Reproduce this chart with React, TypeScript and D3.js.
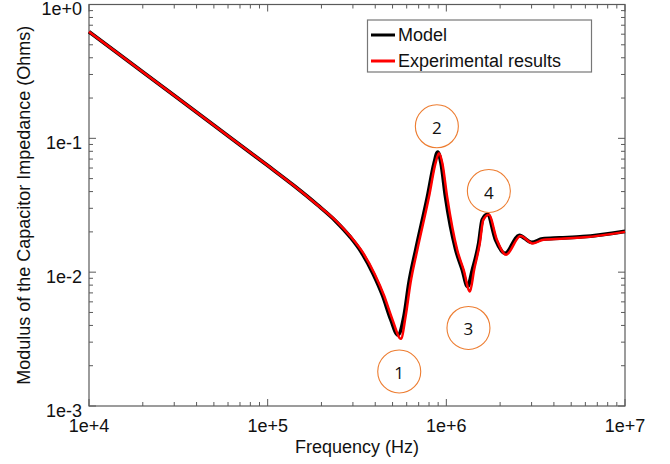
import React from "react";
import * as d3 from "d3";

const freqModel = [1e4, 2e4, 5e4, 1e5, 1.4e5, 1.9e5, 2.4e5, 2.9e5, 3.35e5, 3.9e5, 4.4e5, 4.9e5, 5.35e5, 5.8e5, 6.18e5, 6.75e5, 7.85e5, 8.55e5, 8.95e5, 9.35e5, 9.9e5, 1.13e6, 1.23e6, 1.315e6, 1.4e6, 1.52e6, 1.59e6, 1.7e6, 1.89e6, 2.13e6, 2.56e6, 3.0e6, 3.45e6, 4.3e6, 5.8e6, 1e7];
const zModel = [0.626, 0.313, 0.1252, 0.0626, 0.0444, 0.0318, 0.0241, 0.0183, 0.0141, 0.0097, 0.0067, 0.0044, 0.0034, 0.0047, 0.0083, 0.0147, 0.0367, 0.0652, 0.079, 0.0652, 0.0367, 0.0147, 0.0104, 0.0078, 0.0104, 0.0165, 0.0246, 0.027, 0.0174, 0.0138, 0.0188, 0.0167, 0.0177, 0.018, 0.0184, 0.0202];

const freqExp = [1e4, 2e4, 5e4, 1e5, 1.4e5, 1.9e5, 2.42e5, 2.93e5, 3.4e5, 3.97e5, 4.48e5, 5.0e5, 5.57e5, 5.92e5, 6.3e5, 6.88e5, 8.0e5, 8.7e5, 9.1e5, 9.5e5, 1.01e6, 1.15e6, 1.25e6, 1.355e6, 1.43e6, 1.54e6, 1.61e6, 1.73e6, 1.92e6, 2.16e6, 2.6e6, 3.05e6, 3.5e6, 4.4e6, 5.9e6, 1e7];
const zExp = [0.626, 0.313, 0.1252, 0.0626, 0.0444, 0.0318, 0.0241, 0.0183, 0.0141, 0.0097, 0.0067, 0.0044, 0.00318, 0.0047, 0.0083, 0.0147, 0.0367, 0.0652, 0.0775, 0.0652, 0.0367, 0.0147, 0.0104, 0.00716, 0.0104, 0.0165, 0.0246, 0.0268, 0.0174, 0.0135, 0.0186, 0.0164, 0.0175, 0.0178, 0.0182, 0.02];

const xTickValues = [1e4, 1e5, 1e6, 1e7];
const xTickLabels = ["1e+4", "1e+5", "1e+6", "1e+7"];
const yTickValues = [1, 0.1, 0.01, 0.001];
const yTickLabels = ["1e+0", "1e-1", "1e-2", "1e-3"];

const legendLabels = ["Model", "Experimental results"];
const annotationLabels = ["1", "2", "3", "4"];
const annotationFreq = [5.45e5, 8.85e5, 1.33e6, 1.73e6];
const annotationZ = [0.00181, 0.123, 0.00383, 0.0404];

export default function App() {
  const W = 670, H = 464;
  const left = 89, right = 625, top = 4.5, bottom = 406;
  const x = d3.scaleLog().domain([1e4, 1e7]).range([left, right]);
  const y = d3.scaleLog().domain([1e-3, 1]).range([bottom, top]);

  const line = d3
    .line<[number, number]>()
    .x((d) => x(d[0]))
    .y((d) => y(d[1]))
    .curve(d3.curveMonotoneX);

  const modelPts = freqModel.map((f, i) => [f, zModel[i]] as [number, number]);
  const expPts = freqExp.map((f, i) => [f, zExp[i]] as [number, number]);

  const axisColor = "#5a5a5a";
  const font = "'Liberation Sans', Arial, Helvetica, sans-serif";
  const fs = 18;
  const isMajor = (v: number) => Math.abs(Math.log10(v) - Math.round(Math.log10(v))) < 1e-6;
  const xTicks = x.ticks();
  const yTicks = y.ticks();
  const majLen = 7, minLen = 4;

  return (
    <svg width={W} height={H} style={{ position: "absolute", left: 0, top: 0, display: "block", background: "#fff" }}>
      <rect x={0} y={0} width={W} height={H} fill="#fff" />
      <rect x={left} y={top} width={right - left} height={bottom - top} fill="none" stroke={axisColor} strokeWidth={1.2} />
      {xTicks.map((t, i) => {
        const len = isMajor(t) ? majLen : minLen;
        const px = x(t);
        return (
          <g key={"xt" + i} stroke={axisColor} strokeWidth={1}>
            <line x1={px} x2={px} y1={bottom} y2={bottom - len} />
            <line x1={px} x2={px} y1={top} y2={top + len} />
          </g>
        );
      })}
      {yTicks.map((t, i) => {
        const len = isMajor(t) ? majLen : minLen;
        const py = y(t);
        return (
          <g key={"yt" + i} stroke={axisColor} strokeWidth={1}>
            <line x1={left} x2={left + len} y1={py} y2={py} />
            <line x1={right} x2={right - len} y1={py} y2={py} />
          </g>
        );
      })}
      {xTickValues.map((v, i) => (
        <text key={"xl" + i} x={x(v)} y={y(1e-3) + 19.5} textAnchor="middle" dominantBaseline="central" fontFamily={font} fontSize={fs} fill="#111">
          {xTickLabels[i]}
        </text>
      ))}
      {yTickValues.map((v, i) => (
        <text key={"yl" + i} x={82} y={y(v) + 4.5} textAnchor="end" dominantBaseline="central" fontFamily={font} fontSize={fs} fill="#111">
          {yTickLabels[i]}
        </text>
      ))}
      <text x={(left + right) / 2} y={447} textAnchor="middle" dominantBaseline="central" fontFamily={font} fontSize={fs} fill="#111">
        Frequency (Hz)
      </text>
      <text
        transform={`translate(24, ${(top + bottom) / 2}) rotate(-90)`}
        textAnchor="middle"
        dominantBaseline="central"
        fontFamily={font}
        fontSize={fs}
        fill="#111"
      >
        Modulus of the Capacitor Impedance (Ohms)
      </text>

      <path d={line(modelPts) || ""} fill="none" stroke="#000" strokeWidth={3.8} strokeLinejoin="round" />
      <path d={line(expPts) || ""} fill="none" stroke="#ff0000" strokeWidth={2.5} strokeLinejoin="round" />

      <rect x={367.5} y={20} width={224} height={52} fill="#fff" stroke="#777" strokeWidth={1.2} />
      <line x1={371} x2={395} y1={35} y2={35} stroke="#000" strokeWidth={3} />
      <line x1={371} x2={395} y1={61} y2={61} stroke="#ff0000" strokeWidth={3} />
      <text x={398} y={35} dominantBaseline="central" fontFamily={font} fontSize={fs} fill="#111">
        {legendLabels[0]}
      </text>
      <text x={398} y={61} dominantBaseline="central" fontFamily={font} fontSize={fs} fill="#111">
        {legendLabels[1]}
      </text>

      {annotationLabels.map((lab, i) => {
        const cx = x(annotationFreq[i]);
        const cy = y(annotationZ[i]);
        return (
          <g key={"an" + i}>
            <circle cx={cx} cy={cy} r={21.5} fill="none" stroke="#ED7D31" strokeWidth={1.1} />
            <text x={cx} y={cy + 1} textAnchor="middle" dominantBaseline="central" fontFamily="'Open Sans', 'Noto Sans', sans-serif" fontSize={17} fill="#111">
              {lab}
            </text>
          </g>
        );
      })}
    </svg>
  );
}
